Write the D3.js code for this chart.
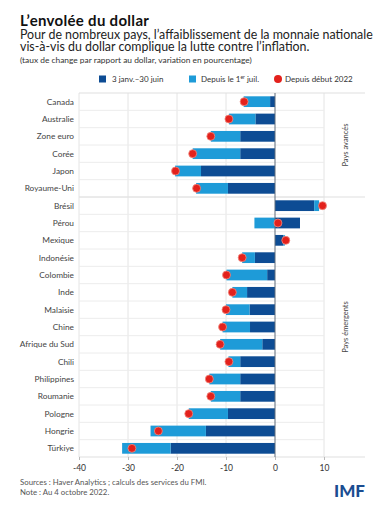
<!DOCTYPE html>
<html lang="fr">
<head>
<meta charset="UTF-8">
<title>L'envolée du dollar</title>
<script src="https://d3js.org/d3.v7.min.js"></script>
<style>
  body { margin: 0; background: #fff; }
  text { font-family: Lato, "Open Sans", sans-serif; }
</style>
</head>
<body>
<svg id="chart" width="384" height="512"></svg>
<script>
// data
const countries = ["Canada", "Australie", "Zone euro", "Corée", "Japon", "Royaume-Uni",
  "Brésil", "Pérou", "Mexique", "Indonésie", "Colombie", "Inde", "Malaisie", "Chine",
  "Afrique du Sud", "Chili", "Philippines", "Roumanie", "Pologne", "Hongrie", "Türkiye"];
const janJune = [-1.0, -4.0, -7.1, -7.1, -15.1, -9.6, 8.0, 5.1, 1.7, -4.1, -1.6, -5.7,
  -5.2, -5.1, -2.6, -7.1, -7.1, -7.1, -9.6, -14.1, -21.3];
const sinceJuly = [-5.4, -5.4, -6.0, -9.7, -5.3, -6.5, 1.0, -4.2, 0.3, -2.6, -8.3, -3.0,
  -4.8, -5.6, -8.6, -2.4, -6.3, -6.0, -8.0, -11.3, -9.9];
const sinceStart = [-6.3, -9.4, -13.1, -16.8, -20.3, -16.0, 9.7, 0.6, 2.2, -6.7, -9.9, -8.7,
  -10.0, -10.7, -11.2, -9.4, -13.4, -13.1, -17.6, -23.8, -29.2];
const groupNames = ["Pays avancés", "Pays émergents"];
const groupSizes = [6, 15];
const xTicks = [-40, -30, -20, -10, 0, 10];
const legendLabels = ["3 janv.–30 juin", "Depuis le 1er juil.", "Depuis début 2022"];

const darkBlue = "#0d4c94", lightBlue = "#1e9bd8", red = "#e3211c";

const svg = d3.select("#chart");
const plotLeft = 79, plotRight = 365, plotTop = 93, plotBottom = 457;

const x = d3.scaleLinear().domain([-40, 10]).range([plotLeft, 324]);
const y = d3.scaleBand().domain(countries).range([plotTop, plotBottom]).paddingInner(0.38).paddingOuter(0.19);
const step = y.step();

// titles
svg.append("text").attr("x", 20).attr("y", 26).style("font-size", "15px")
  .style("font-weight", "bold").style("letter-spacing", "0.3px").attr("fill", "#111")
  .text("L’envolée du dollar");
svg.append("text").attr("x", 20).attr("y", 39).style("font-size", "12.4px").attr("fill", "#222")
  .text("Pour de nombreux pays, l’affaiblissement de la monnaie nationale");
svg.append("text").attr("x", 20).attr("y", 50.5).style("font-size", "12.4px").attr("fill", "#222")
  .text("vis-à-vis du dollar complique la lutte contre l’inflation.");
svg.append("text").attr("x", 20).attr("y", 62.5).style("font-size", "8.4px").attr("fill", "#333")
  .text("(taux de change par rapport au dollar, variation en pourcentage)");

// legend
const lg = svg.append("g").style("font-size", "8px").attr("fill", "#333");
lg.append("rect").attr("x", 99).attr("y", 75.5).attr("width", 7).attr("height", 7).attr("fill", darkBlue);
lg.append("text").attr("x", 112).attr("y", 82).text(legendLabels[0]);
lg.append("rect").attr("x", 189).attr("y", 75.5).attr("width", 7).attr("height", 7).attr("fill", lightBlue);
const t2 = lg.append("text").attr("x", 201).attr("y", 82);
t2.append("tspan").text("Depuis le 1");
t2.append("tspan").attr("dy", -3).style("font-size", "5px").text("er");
t2.append("tspan").attr("dy", 3).text(" juil.");
lg.append("circle").attr("cx", 278).attr("cy", 79).attr("r", 4).attr("fill", red);
lg.append("text").attr("x", 285).attr("y", 82).text(legendLabels[2]);

// grid
const grid = svg.append("g");
grid.selectAll(".vg").data(xTicks.filter(d => d !== 0)).enter().append("line")
  .attr("x1", d => x(d)).attr("x2", d => x(d)).attr("y1", plotTop).attr("y2", plotBottom)
  .attr("stroke", "#e4e4e4").attr("stroke-width", 1);
// row separators
grid.selectAll(".hg").data(countries.slice(1)).enter().append("line")
  .attr("x1", plotLeft).attr("x2", x(10))
  .attr("y1", d => y(d) - step * 0.19).attr("y2", d => y(d) - step * 0.19)
  .attr("stroke", "#ececec");
// group separators, full width
let acc = 0;
const bounds = [plotTop];
groupSizes.forEach(n => { acc += n; bounds.push(plotTop + acc * step); });
grid.selectAll(".gs").data(bounds).enter().append("line")
  .attr("x1", plotLeft).attr("x2", plotRight).attr("y1", d => d).attr("y2", d => d)
  .attr("stroke", "#e0e0e0").attr("stroke-width", 1.2);

// stacked bars, diverging
const table = countries.map((c, i) => ({ country: c, a: janJune[i], b: sinceJuly[i] }));
const series = d3.stack().keys(["a", "b"]).offset(d3.stackOffsetDiverging)(table);
const colors = { a: darkBlue, b: lightBlue };
svg.append("g").selectAll("g").data(series).enter().append("g")
  .attr("fill", d => colors[d.key])
  .selectAll("rect").data(d => d).enter().append("rect")
  .attr("x", d => x(Math.min(d[0], d[1])))
  .attr("width", d => Math.abs(x(d[1]) - x(d[0])))
  .attr("y", d => y(d.data.country))
  .attr("height", y.bandwidth());

// zero line
svg.append("line").attr("x1", x(0)).attr("x2", x(0)).attr("y1", plotTop).attr("y2", plotBottom)
  .attr("stroke", "#5d6b7a").attr("stroke-width", 1);

// dots
svg.append("g").selectAll("circle").data(countries).enter().append("circle")
  .attr("cx", (d, i) => x(sinceStart[i]))
  .attr("cy", d => y(d) + y.bandwidth() / 2)
  .attr("r", 4)
  .attr("fill", red).attr("stroke", "#f08a80").attr("stroke-width", 0.8);

// y labels
svg.append("g").selectAll("text").data(countries).enter().append("text")
  .attr("x", 74).attr("y", d => y(d) + y.bandwidth() / 2).attr("dy", "0.35em")
  .attr("text-anchor", "end").style("font-size", "8.3px").attr("fill", "#444").text(d => d);

// x axis
const xa = svg.append("g").attr("transform", `translate(0,${plotBottom})`)
  .call(d3.axisBottom(x).tickValues(xTicks).tickSize(3).tickFormat(d => d));
xa.select(".domain").remove();
xa.selectAll("line").attr("stroke", "#bbb");
xa.selectAll("text").style("font-size", "8.5px").attr("fill", "#333")
  .style("font-family", "Lato, sans-serif").attr("dy", "0.9em");

// group labels
acc = 0;
groupNames.forEach((g, i) => {
  const cy = plotTop + (acc + groupSizes[i] / 2) * step;
  acc += groupSizes[i];
  svg.append("text").attr("transform", `translate(348,${cy}) rotate(-90)`)
    .attr("text-anchor", "middle").style("font-size", "7.5px").attr("fill", "#444").text(g);
});

// footer
svg.append("text").attr("x", 20).attr("y", 485).style("font-size", "7.8px").attr("fill", "#555")
  .text("Sources : Haver Analytics ; calculs des services du FMI.");
svg.append("text").attr("x", 20).attr("y", 495).style("font-size", "7.8px").attr("fill", "#555")
  .text("Note : Au 4 octobre 2022.");
svg.append("text").attr("x", 365).attr("y", 497).attr("text-anchor", "end")
  .style("font-size", "17px").style("font-weight", "900").attr("fill", "#1b4d91").text("IMF");
</script>
</body>
</html>
